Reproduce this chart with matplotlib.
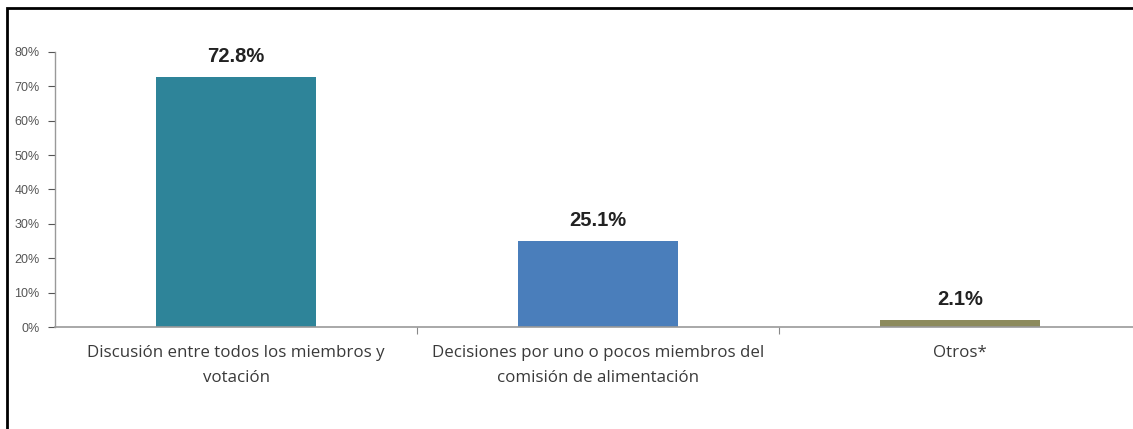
import matplotlib.pyplot as plt
from matplotlib.patches import Rectangle
from matplotlib.ticker import PercentFormatter, FixedLocator

# Data
categories = ['Discusión entre todos los miembros y\nvotación',
              'Decisiones por uno o pocos miembros del\ncomisión de alimentación',
              'Otros*']
values = [72.8, 25.1, 2.1]
labels = ['72.8%', '25.1%', '2.1%']
colors = ['#2E8499', '#4A7EBB', '#8C8A5C']
yticks = [0, 10, 20, 30, 40, 50, 60, 70, 80]

W, H = 1133, 429
fig = plt.figure(figsize=(W / 100, H / 100), dpi=100)
ax = fig.add_axes([55 / W, 102 / H, (1141 - 55) / W, 275 / H])

x = range(len(categories))
ax.bar(x, values, width=0.44, color=colors, zorder=2)

for xi, v, lab in zip(x, values, labels):
    ax.text(xi, v + 3.0, lab, ha='center', va='bottom', fontsize=14.5,
            fontweight='bold', color='#222222', family='Liberation Sans')

ax.set_xlim(-0.5, 2.5)
ax.set_ylim(0, 80)
ax.set_yticks(yticks)
ax.yaxis.set_major_formatter(PercentFormatter(decimals=0))
ax.tick_params(axis='y', labelsize=9, colors='#555555', length=5, width=0.8,
               direction='out', pad=6)
for t in ax.get_yticklabels():
    t.set_family('Liberation Sans')

# category labels centered, tick marks at boundaries
ax.set_xticks(list(x))
ax.set_xticklabels(categories, fontsize=12.2, color='#3a3a3a', family='Open Sans',
                   linespacing=1.75)
ax.tick_params(axis='x', length=0, pad=13)
ax.xaxis.set_minor_locator(FixedLocator([0.5, 1.5]))
ax.tick_params(axis='x', which='minor', length=5, width=0.8, color='#888888')

for side in ['top', 'right']:
    ax.spines[side].set_visible(False)
ax.spines['left'].set_color('#999999')
ax.spines['bottom'].set_color('#999999')
ax.spines['left'].set_linewidth(1)
ax.spines['bottom'].set_linewidth(1.2)

# outer frame (cropped box)
frame = Rectangle((7 / W, -0.2), 1.2, 1 - 8 / H + 0.2, transform=fig.transFigure,
                  fill=False, edgecolor='black', linewidth=2, clip_on=False)
fig.add_artist(frame)

fig.savefig('out.png', dpi=100)
